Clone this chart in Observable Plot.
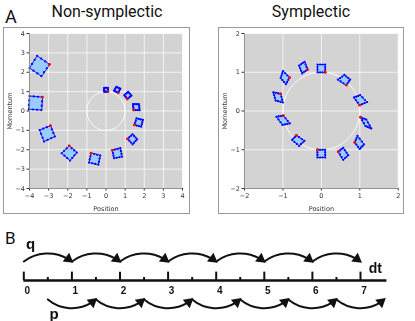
<!DOCTYPE html>
<html>
<head>
<meta charset="utf-8">
<script src="https://cdn.jsdelivr.net/npm/d3@7"></script>
<script src="https://cdn.jsdelivr.net/npm/@observablehq/plot@0.6"></script>
<style>
  body { margin: 0; background: #fff; }
  #root { position: relative; width: 415px; height: 321px; overflow: hidden; background: #fff; font-family: Roboto, "Liberation Sans", sans-serif; }
  .abs { position: absolute; }
  .frame { position: absolute; box-sizing: border-box; border: 1px solid #9a9a9a; }
  .title { position: absolute; text-align: center; font-size: 16px; color: #111; white-space: nowrap; }
  svg text { filter: grayscale(100%); }
</style>
</head>
<body>
<div id="root">
  <div class="abs" style="left:5px;top:6px;font-size:18px;color:#111;">A</div>
  <div class="title" style="left:37px;width:140px;top:2px;">Non-symplectic</div>
  <div class="title" style="left:241px;width:140px;top:2px;">Symplectic</div>
  <div class="frame" style="left:3px;top:27px;width:187px;height:187px;"></div>
  <div class="frame" style="left:218px;top:27px;width:186px;height:187px;"></div>
  <div id="left" class="abs" style="left:4px;top:28px;"></div>
  <div id="right" class="abs" style="left:219px;top:28px;"></div>
  <div class="abs" style="left:5px;top:228px;font-size:17px;color:#111;">B</div>
  <div id="bottom" class="abs" style="left:0px;top:228px;"></div>
</div>
<script>
// ---------- Panel A data: corners of each phase-space square (first corner = red) ----------
const nsQ = [
  [0.10, 0.10, -0.10, -0.10],
  [0.64, 0.75, 0.54, 0.42],
  [1.11, 1.33, 1.16, 0.96],
  [1.45, 1.76, 1.72, 1.41],
  [1.49, 1.84, 1.93, 1.60],
  [1.13, 1.39, 1.63, 1.39],
  [0.33, 0.42, 0.84, 0.75],
  [-0.78, -0.89, -0.40, -0.30],
  [-1.93, -2.32, -1.88, -1.53],
  [-2.91, -3.47, -3.24, -2.68],
  [-3.33, -4.00, -4.04, -3.38],
  [-2.96, -3.60, -4.00, -3.38]
];
const nsP = [
  [1.00, 1.20, 1.20, 1.00],
  [0.94, 1.15, 1.25, 1.05],
  [0.62, 0.79, 0.99, 0.82],
  [0.05, 0.04, 0.35, 0.36],
  [-0.72, -0.81, -0.46, -0.38],
  [-1.44, -1.72, -1.46, -1.20],
  [-2.03, -2.44, -2.36, -1.92],
  [-2.18, -2.66, -2.77, -2.30],
  [-1.80, -2.18, -2.56, -2.15],
  [-0.76, -0.98, -1.58, -1.32],
  [0.72, 0.77, 0.09, 0.05],
  [2.41, 2.85, 2.22, 1.80]
];
const symQ = [
  [0.10, 0.10, -0.10, -0.10],
  [0.65, 0.75, 0.60, 0.43],
  [1.00, 1.19, 1.01, 0.85],
  [1.02, 1.17, 1.30, 1.15],
  [0.87, 0.94, 1.11, 1.00],
  [0.44, 0.57, 0.70, 0.57],
  [-0.10, 0.10, 0.10, -0.10],
  [-0.65, -0.44, -0.58, -0.76],
  [-0.99, -0.82, -1.01, -1.17],
  [-1.06, -1.00, -1.19, -1.25],
  [-0.83, -0.92, -1.06, -1.00],
  [-0.36, -0.50, -0.58, -0.44]
];
const symP = [
  [1.00, 1.20, 1.20, 1.00],
  [0.67, 0.81, 0.93, 0.81],
  [0.15, 0.23, 0.41, 0.35],
  [-0.16, -0.22, -0.45, -0.39],
  [-0.81, -0.64, -0.86, -0.98],
  [-1.05, -0.95, -1.14, -1.26],
  [-1.00, -1.00, -1.20, -1.20],
  [-0.63, -0.77, -0.90, -0.75],
  [-0.12, -0.32, -0.36, -0.15],
  [0.44, 0.22, 0.27, 0.48],
  [0.86, 0.69, 0.85, 1.03],
  [1.07, 0.97, 1.17, 1.27]
];
const nsTicks = [-4, -3, -2, -1, 0, 1, 2, 3, 4];
const symTicks = [-2, -1, 0, 1, 2];
const unitRadius = 1;

// ---------- Panel B data ----------
const stepLabels = [0, 1, 2, 3, 4, 5, 6, 7];
const halfTicks = [0.5, 1.5, 2.5, 3.5, 4.5, 5.5, 6.5];
const qStarts = [0, 1, 2, 3, 4, 5, 6];
const pStarts = [0.5, 1.5, 2.5, 3.5, 4.5, 5.5, 6.5];
const lineEnd = 7.55;

function phasePlot(Q, P, ticks, lim, w, h, ml, mr) {
  const polys = [], dots = [], reds = [];
  Q.forEach((qs, i) => {
    qs.forEach((q, j) => polys.push({i, q, p: P[i][j]}));
    for (let j = 0; j < 4; j++) {
      const k = (j + 1) % 4;
      for (const t of [0, 1/3, 2/3]) {
        dots.push({q: qs[j] + t * (qs[k] - qs[j]), p: P[i][j] + t * (P[i][k] - P[i][j])});
      }
    }
    reds.push({q: qs[0], p: P[i][0]});
  });
  const circle = d3.range(0, 361, 3).map(a => ({q: unitRadius * Math.cos(a * Math.PI / 180), p: unitRadius * Math.sin(a * Math.PI / 180)}));
  return Plot.plot({
    width: w, height: h,
    marginLeft: ml, marginRight: mr, marginTop: 5, marginBottom: 25,
    style: {fontSize: "6.5px", fontFamily: "'DejaVu Sans', sans-serif", color: "#333", background: "transparent"},
    x: {domain: [-lim, lim]},
    y: {domain: [-lim, lim]},
    marks: [
      Plot.frame({fill: "#d3d3d3", stroke: null}),
      Plot.gridX(ticks, {stroke: "white", strokeOpacity: 0.9, strokeWidth: 0.8}),
      Plot.gridY(ticks, {stroke: "white", strokeOpacity: 0.9, strokeWidth: 0.8}),
      Plot.line(circle, {x: "q", y: "p", stroke: "white", strokeWidth: 1, strokeOpacity: 0.9}),
      Plot.line(polys, {x: "q", y: "p", z: "i", curve: "linear-closed", fill: "#99ccff", stroke: "#1010ee", strokeWidth: 0.9}),
      Plot.dot(dots, {x: "q", y: "p", r: 1.1, fill: "#0000ff", stroke: null}),
      Plot.dot(reds, {x: "q", y: "p", r: 1.4, fill: "#ff0000", stroke: null}),
      Plot.axisX(ticks, {tickSize: 2.5, tickPadding: 2, fill: "#333", stroke: "#333", label: "Position", labelAnchor: "center", labelArrow: "none", labelOffset: 22}),
      Plot.axisY(ticks, {tickSize: 2.5, tickPadding: 2, fill: "#333", stroke: "#333", label: "Momentum", labelAnchor: "center", labelArrow: "none", labelOffset: 22}),
      Plot.ruleX([-lim], {stroke: "#777", strokeWidth: 0.8}),
      Plot.ruleY([-lim], {stroke: "#777", strokeWidth: 0.8})
    ]
  });
}

document.getElementById("left").append(phasePlot(nsQ, nsP, nsTicks, 4, 185, 185, 25, 7));
document.getElementById("right").append(phasePlot(symQ, symP, symTicks, 2, 184, 185, 25, 5.3));

const bottom = Plot.plot({
  width: 415, height: 93,
  marginLeft: 23.3, marginRight: 55, marginTop: 0, marginBottom: 0,
  style: {background: "transparent", fontFamily: "'Liberation Sans', Arial, sans-serif", color: "#111"},
  x: {domain: [0, 7], axis: null},
  y: {domain: [-2, 2], range: [90, 14], axis: null},
  marks: [
    Plot.ruleY([0], {x1: d => 0, x2: d => lineEnd, stroke: "#111", strokeWidth: 2.4}),
    Plot.ruleX(stepLabels, {x: d => d, y1: d => 0, y2: d => 0.44, stroke: "#111", strokeWidth: 2}),
    Plot.ruleX(halfTicks, {x: d => d, y1: d => 0, y2: d => 0.16, stroke: "#111", strokeWidth: 2}),
    Plot.text(stepLabels, {x: d => d, y: d => -0.52, text: d => String(d), fontWeight: "bold", fontSize: 10, dx: 3.5}),
    Plot.arrow(qStarts, {x1: d => d, y1: d => 1, x2: d => d + 1, y2: d => 1, bend: 37, headLength: 0, insetEnd: 5, stroke: "#111", strokeWidth: 2}),
    Plot.dot(qStarts, {x: d => d + 1, y: d => 1, symbol: "triangle", r: 4, fill: "#111", stroke: null, rotate: 127, dx: -3.5, dy: -2.5}),
    Plot.arrow(pStarts, {x1: d => d, y1: d => -1, x2: d => d + 1, y2: d => -1, bend: -40, headLength: 0, insetEnd: 5, stroke: "#111", strokeWidth: 2}),
    Plot.dot(pStarts, {x: d => d + 1, y: d => -1, symbol: "triangle", r: 4, fill: "#111", stroke: null, rotate: 50, dx: -3.5, dy: 2.5}),
    Plot.text(["q"], {x: d => 0.14, y: d => 1.9, text: d => d, fontWeight: "bold", fontSize: 15}),
    Plot.text(["p"], {x: d => 0.63, y: d => -1.75, text: d => d, fontWeight: "bold", fontSize: 15}),
    Plot.text(["dt"], {x: d => 7.17, y: d => 0.62, text: d => d, fontWeight: "bold", fontSize: 14, textAnchor: "start"})
  ]
});
document.getElementById("bottom").append(bottom);
</script>
</body>
</html>
